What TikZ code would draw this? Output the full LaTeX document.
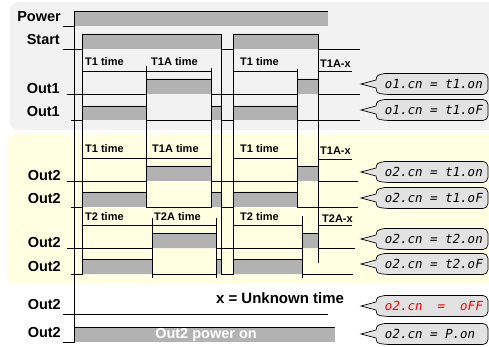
\documentclass[tikz,border=0pt]{standalone}
\usepackage{fontspec}
\setmainfont{Liberation Sans}
\newfontfamily\segfont[FakeSlant=0.2]{DejaVu Sans Mono}
\definecolor{panelgray}{RGB}{242,242,242}
\definecolor{panelyellow}{RGB}{255,255,226}
\definecolor{sigfill}{RGB}{178,178,178}
\definecolor{boxfill}{RGB}{226,226,226}
\tikzset{
  wave/.style={line width=0.8pt},
  sig/.style={fill=sigfill},
  marker/.style={line width=0.8pt},
  sname/.style={font=\bfseries\fontsize{14.5}{16}\selectfont, anchor=east, inner sep=0pt},
  tname/.style={font=\bfseries\fontsize{11}{12}\selectfont, anchor=west, inner sep=0pt},
  callout/.style={fill=boxfill, line width=0.7pt},
  segtext/.style={font=\segfont\fontsize{12.5}{14}\selectfont, anchor=west, inner sep=0pt}
}
\begin{document}
\begin{tikzpicture}[x=1pt,y=-1pt]
  \useasboundingbox (0,0) rectangle (489,347);
  %Panels
  \fill[panelgray, rounded corners=8pt] (10,2) rectangle (500,130);
  \fill[panelyellow, rounded corners=8pt] (7,134) rectangle (500,283);

  %Signal names
  \node[sname] (power) at (61,17) {Power};
  \node[sname] (start) at (60,40) {Start};
  \node[sname] (outA) at (60,89) {Out1};
  \node[sname] (outB) at (60,112) {Out1};
  \foreach \y [count=\i] in {176,199,243,267,305,333}
    \node[sname] (outtwo\i) at (61,\y) {Out2};

  %Power and Start
  \fill[sig] (74,11) rectangle (328,26);
  \draw[wave] (63,26) -- (74,26) -- (74,11) -- (328,11);
  \fill[sig] (82,34) rectangle (221,49) (233,34) rectangle (318,49);
  \draw[wave] (63,49) -- (82,49) -- (82,34) -- (221,34) -- (221,49) -- (233,49) -- (233,34) -- (318,34) -- (318,49) -- (360,49);

  %Out1
  \fill[sig] (146,79) rectangle (211,94) (297,79) rectangle (318,94);
  \draw[wave] (67,94) -- (146,94) -- (146,79) -- (211,79) -- (211,94) -- (297,94) -- (297,79) -- (318,79) -- (318,94) -- (360,94);
  \fill[sig] (82,106) rectangle (146,120) (211,106) rectangle (221,120) (233,106) rectangle (297,120);
  \draw[wave] (71,120) -- (82,120) -- (82,106) -- (146,106) -- (146,120) -- (211,120) -- (211,106) -- (221,106) -- (221,120) -- (233,120) -- (233,106) -- (297,106) -- (297,120) -- (360,120);

  %Out2 with T1
  \fill[sig] (146,166) rectangle (211,181) (297,166) rectangle (318,181);
  \draw[wave] (67,181) -- (146,181) -- (146,166) -- (211,166) -- (211,181) -- (297,181) -- (297,166) -- (318,166) -- (318,181) -- (358,181);
  \fill[sig] (82,192) rectangle (146,207) (211,192) rectangle (221,207) (233,192) rectangle (297,207);
  \draw[wave] (71,207) -- (82,207) -- (82,192) -- (146,192) -- (146,207) -- (211,207) -- (211,192) -- (221,192) -- (221,207) -- (233,207) -- (233,192) -- (297,192) -- (297,207) -- (358,207);

  %Out2 with T2
  \fill[sig] (152,233) rectangle (216,248) (302,233) rectangle (318,248);
  \draw[wave] (67,248) -- (152,248) -- (152,233) -- (216,233) -- (216,248) -- (302,248) -- (302,233) -- (318,233) -- (318,248) -- (355,248);
  \fill[sig] (82,259) rectangle (152,274) (216,259) rectangle (221,274) (233,259) rectangle (302,274);
  \draw[wave] (71,274) -- (82,274) -- (82,259) -- (152,259) -- (152,274) -- (216,274) -- (216,259) -- (221,259) -- (221,274) -- (233,274) -- (233,259) -- (302,259) -- (302,274) -- (353,274);

  %Out2 off and power on
  \draw[wave] (63,314) -- (328,314);
  \fill[sig] (74,327) rectangle (335,342);
  \draw[wave] (63,342) -- (74,342) -- (74,327) -- (335,327);
  \node[font=\bfseries\fontsize{14.5}{16}\selectfont, text=white, inner sep=0pt] (pwron) at (206,335) {Out2 power on};
  \node[font=\bfseries\fontsize{15}{17}\selectfont, inner sep=0pt] (unknown) at (280,298) {x = Unknown time};

  %Event lines
  \foreach \x/\ya/\yb in {74/11/342, 82/34/274, 221/34/274, 233/34/274, 318/34/263,
                          146/66/207, 211/68/207, 297/69/207, 152/218/278, 216/218/278, 302/216/278}
    \draw[marker] (\x,\ya) -- (\x,\yb);

  %Time spans
  \foreach \xa/\xb/\y in {82/146/71, 146/211/71, 233/297/71, 318/352/71,
                          82/146/158, 146/211/158, 233/297/158, 318/352/159,
                          82/152/225, 152/216/225, 233/302/225, 318/352/225}
    \draw[marker] (\xa,\y) -- (\xb,\y);
  \foreach \x/\y/\t [count=\i] in {85/62/T1 time, 151/62/T1A time, 240/62/T1 time, 320/63.5/T1A-x,
                                   85/148.5/T1 time, 152/148.5/T1A time, 240/148.5/T1 time, 320/151/T1A-x,
                                   85/217/T2 time, 154/217/T2A time, 240/217/T2 time, 322/219/T2A-x}
    \node[tname] (span\i) at (\x,\y) {\t};

  %Parameter callouts
  \foreach \cy/\ctxt/\ccol [count=\i] in {84/{o1.cn = t1.on}/black, 110/{o1.cn = t1.oF}/black,
                                         172/{o2.cn = t1.on}/black, 198/{o2.cn = t1.oF}/black,
                                         239/{o2.cn = t2.on}/black, 264/{o2.cn = t2.oF}/black,
                                         306/{o2.cn~ =~ oFF}/red, 334/{o2.cn = P.on}/black}
  {
    \draw[callout] (430,\cy-10.5) [rounded corners=5pt] -- (488,\cy-10.5) -- (488,\cy+10.5) -- (385,\cy+10.5)
      [sharp corners] .. controls (377,\cy+9) .. (376,\cy+4) -- (361,\cy) -- (376,\cy-4)
      .. controls (377,\cy-9) .. (385,\cy-10.5) -- cycle;
    \node[segtext, text=\ccol] (cfg\i) at (384,\cy) {\ctxt};
  }
\end{tikzpicture}
\end{document}
